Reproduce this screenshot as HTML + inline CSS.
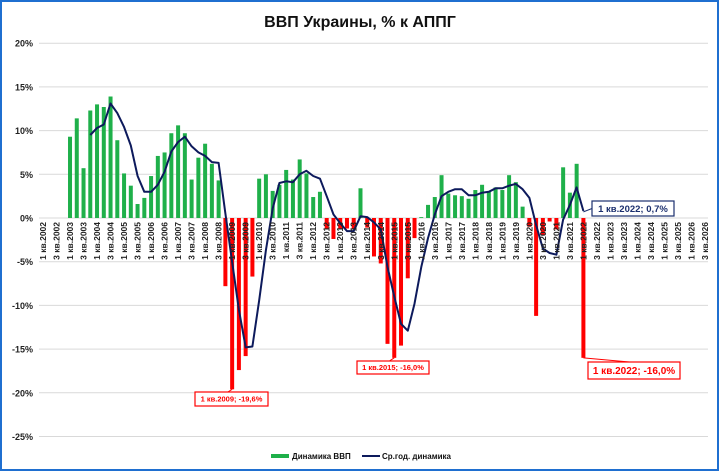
<!DOCTYPE html>
<html><head><meta charset="utf-8"><style>
body{margin:0;background:#fff;}
svg{display:block;font-family:"Liberation Sans",sans-serif;}
</style></head><body>
<svg id="chart" width="720" height="472" viewBox="0 0 720 472">
<rect x="1" y="1" width="717" height="469" fill="#fff" stroke="#1f6fd0" stroke-width="2"/>
<text x="360" y="27" text-anchor="middle" font-size="16" font-weight="bold" fill="#111">ВВП Украины, % к АППГ</text>
<g id="grid"></g><g id="bars"></g><g id="line"></g><g id="xlabels"></g><g id="ann"></g>
<g>
<rect x="271" y="454" width="18" height="4" fill="#1fb04a"/>
<text x="292" y="459" font-size="8" font-weight="bold" fill="#111">Динамика ВВП</text>
<line x1="362" y1="456" x2="380" y2="456" stroke="#0d1a5c" stroke-width="2"/>
<text x="382" y="459" font-size="8" font-weight="bold" fill="#111">Ср.год. динамика</text>
</g>
</svg>
<script>
const yTicks=[20,15,10,5,0,-5,-10,-15,-20,-25];
const startYear=2002, nQuarters=100;
const gdp=[null,null,null,null,
9.3,11.4,5.7,12.3, 13.0,12.7,13.9,8.9, 5.1,3.7,1.6,2.3, 4.8,7.1,7.5,9.7, 10.6,9.7,4.4,6.9,
8.5,6.2,4.3,-7.8, -19.6,-17.4,-15.8,-6.7, 4.5,5.0,3.1,3.8, 5.5,4.4,6.7,5.1, 2.4,3.0,-1.3,-2.4,
-1.2,-1.2,-1.2,3.4, -1.1,-4.4,-5.2,-14.4, -16.0,-14.6,-6.9,-2.3, 0.1,1.5,2.4,4.9,
2.8,2.6,2.5,2.2, 3.2,3.8,3.0,3.5, 3.2,4.9,4.1,1.3, -1.0,-11.2,-2.0,-0.4, -1.3,5.8,2.9,6.2, -16.0];
const avg=[null,null,null,null, null,null,null,9.5,
10.3,10.7,13.1,12.0, 10.4,8.3,4.8,3.0, 3.0,3.8,5.3,7.6, 8.7,9.3,8.2,7.5, 7.1,6.4,6.3,0.5,
-5.0,-10.5,-14.8,-14.7, -9.4,-3.7,1.1,4.0, 4.2,4.1,5.0,5.4, 4.8,4.5,2.5,0.4,
-0.6,-1.5,-1.5,0.2, 0.1,-0.5,-1.3,-5.6, -9.0,-12.1,-12.9,-9.8, -5.6,-2.3,0.4,2.5,
3.0,3.3,3.3,2.6, 2.6,2.9,3.0,3.4, 3.4,3.7,3.9,3.3, 2.3,-0.8,-3.5,-4.0, -4.2,-0.2,1.5,3.5, 0.8];
const annotations=[
 {i:28,v:-19.6,text:"1 кв.2009; -19,6%",bx:195,by:392,w:73,h:14,fs:7.5,col:"#ff0000"},
 {i:52,v:-16.0,text:"1 кв.2015; -16,0%",bx:357,by:361,w:72,h:13,fs:7.5,col:"#ff0000"},
 {i:80,v:-16.0,text:"1 кв.2022; -16,0%",bx:588,by:362,w:92,h:17,fs:10,col:"#ff0000"},
 {i:80,v:0.7,text:"1 кв.2022; 0,7%",bx:592,by:201,w:82,h:15,fs:9.5,col:"#1b2f6e",line:true}];
const NS="http://www.w3.org/2000/svg";
const y=v=>218-v*8.74;
const x=i=>43+i*6.755;
function mk(t,a,p){const e=document.createElementNS(NS,t);for(const k in a)e.setAttribute(k,a[k]);p.appendChild(e);return e;}
const grid=document.getElementById('grid');
yTicks.forEach(t=>{
 const l=mk('line',{x1:39,x2:708,y1:y(t),y2:y(t),stroke:'#d9d9d9','stroke-width':1},grid);
 
 
 const tx=mk('text',{x:33,y:y(t)+3.5,'text-anchor':'end','font-size':9,'font-weight':'bold',fill:'#222'},grid);
 tx.textContent=t+'%';
 
 
});
const bars=document.getElementById('bars');
gdp.forEach((v,i)=>{
 if(v===null)return;
 const r=mk('rect',{x:x(i)-2,width:4,y:Math.min(y(v),y(0)),height:Math.abs(y(v)-y(0)),fill:v>=0?'#1fb04a':'#ff0000'},bars);
 
 
});
const xl=document.getElementById('xlabels');
for(let i=0;i<nQuarters;i+=2){
 const q=(i%4)+1, yr=startYear+Math.floor(i/4);
 const t=mk('text',{transform:`translate(${x(i)+3},222) rotate(-90)`,'text-anchor':'end','font-size':8.5,'font-weight':'bold',fill:'#222'},xl);
 t.textContent=q+' кв.'+yr;
 
 
}
let d='';avg.forEach((v,i)=>{if(v===null)return;d+=(d?'L':'M')+x(i).toFixed(1)+','+y(v).toFixed(1);});
const pl=mk('path',{d:d,fill:'none',stroke:'#0d1a5c','stroke-width':2,'stroke-linejoin':'round'},document.getElementById('line'));


const ann=document.getElementById('ann');
annotations.forEach(a=>{
 const px=x(a.i), py=y(a.v);
 const ly=a.line?a.by+a.h/2:a.by;
 const lx=a.line?a.bx:a.bx+a.w*0.45;
 const ln=mk('polyline',{points:`${px},${py} ${lx},${ly}`,fill:'none',stroke:a.col,'stroke-width':1},ann);
 
 
 const b=mk('rect',{x:a.bx,y:a.by,width:a.w,height:a.h,fill:'#fff',stroke:a.col,'stroke-width':1.2},ann);
 
 
 const t=mk('text',{x:a.bx+a.w/2,y:a.by+a.h/2+a.fs*0.36,'text-anchor':'middle','font-size':a.fs,'font-weight':'bold',fill:a.col},ann);
 t.textContent=a.text;
 
 
});
</script>
</body></html>
